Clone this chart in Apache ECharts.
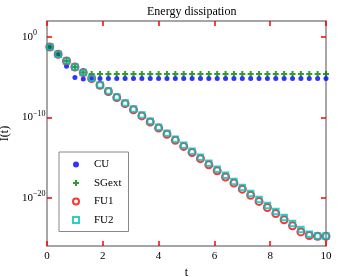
<!DOCTYPE html>
<html><head><meta charset="utf-8">
<script src="https://cdn.jsdelivr.net/npm/echarts@6/dist/echarts.min.js"></script>
<style>html,body{margin:0;padding:0;background:#fff}#c{width:360px;height:277px}</style>
</head><body><div id="c"></div>
<script>
// time samples
const tValues = [0.1,0.4,0.7,1.0,1.3,1.6,1.9,2.2,2.5,2.8,3.1,3.4,3.7,4.0,4.3,4.6,4.9,5.2,5.5,5.8,6.1,6.4,6.7,7.0,7.3,7.6,7.9,8.2,8.5,8.8,9.1,9.4,9.7,10.0];
// log10 of I(t)
const cuExp = [-1.23,-2.14,-3.64,-5.04,-5.22,-5.15,-5.15,-5.15,-5.15,-5.15,-5.15,-5.15,-5.15,-5.15,-5.15,-5.15,-5.15,-5.15,-5.15,-5.15,-5.15,-5.15,-5.15,-5.15,-5.15,-5.15,-5.15,-5.15,-5.15,-5.15,-5.15,-5.15,-5.15,-5.15];
const sgExp = [-1.23,-2.14,-2.98,-3.72,-4.42,-4.6,-4.6,-4.6,-4.6,-4.6,-4.6,-4.6,-4.6,-4.6,-4.6,-4.6,-4.6,-4.6,-4.6,-4.6,-4.6,-4.6,-4.6,-4.6,-4.6,-4.6,-4.6,-4.6,-4.6,-4.6,-4.6,-4.6,-4.6,-4.6];
const fu1Exp = [-1.23,-2.14,-2.98,-3.72,-4.42,-5.15,-6.0,-6.77,-7.53,-8.29,-9.05,-9.81,-10.57,-11.33,-12.09,-12.85,-13.61,-14.37,-15.13,-15.89,-16.65,-17.41,-18.17,-18.93,-19.69,-20.45,-21.21,-21.97,-22.73,-23.49,-24.25,-24.7,-24.8,-24.8];
const fu2Exp = [-1.23,-2.14,-2.98,-3.72,-4.42,-5.13,-5.96,-6.71,-7.46,-8.21,-8.96,-9.71,-10.46,-11.21,-11.96,-12.71,-13.46,-14.21,-14.96,-15.71,-16.46,-17.21,-17.96,-18.71,-19.46,-20.21,-20.96,-21.71,-22.46,-23.21,-23.96,-24.55,-24.77,-24.77];
const yTickExp = [0,-10,-20];
const seriesNames = ['CU','SGext','FU1','FU2'];

const F = 'Liberation Serif';
const axisColor = '#888888';
const tickColor = '#ff0000';
function toData(exps){ return tValues.map((t,i)=>[t, Math.pow(10, exps[i])]); }
const yCustom = yTickExp.map(e=>Math.pow(10,e));
const plusPath = 'path://M2,0H4V2H6V4H4V6H2V4H0V2H2Z';

const chart = echarts.init(document.getElementById('c'));
function xAxisOf(pos, extra){
  return Object.assign({type:'value', min:0, max:10, interval:2, position:pos,
    axisLine:{show:true, onZero:false, lineStyle:{color:axisColor, width:1.5}},
    axisTick:{show:true, inside:true, length:5, lineStyle:{color:tickColor, width:1.5}},
    splitLine:{show:false}}, extra);
}
function yAxisOf(pos, extra){
  return Object.assign({type:'log', logBase:10, min:1e-26, max:1e2, position:pos,
    axisLine:{show:true, onZero:false, lineStyle:{color:axisColor, width:1.5}},
    axisTick:{show:true, inside:true, length:5, customValues:yCustom.slice(), lineStyle:{color:tickColor, width:1.5}},
    minorTick:{show:false}, splitLine:{show:false}}, extra);
}
const option = {
  animation:false,
  title:{text:'Energy dissipation', left:142, top:1,
    textStyle:{fontFamily:F, fontSize:12, fontWeight:'normal', color:'#000'}},
  grid:{left:47, top:21, right:34, bottom:31, outerBoundsMode:'none'},
  xAxis:[
    xAxisOf('bottom', {name:'t', nameLocation:'middle', nameGap:16,
      nameTextStyle:{fontFamily:F, fontSize:12, color:'#000'},
      axisLabel:{fontFamily:F, fontSize:11, color:'#000', margin:5}}),
    xAxisOf('top', {axisLabel:{show:false}})
  ],
  yAxis:[
    yAxisOf('left', {name:'I(t)', nameLocation:'middle', nameGap:29, nameRotate:90,
      nameTextStyle:{fontFamily:F, fontSize:12, color:'#000'},
      axisLabel:{customValues:yCustom.slice(), align:'left', margin:25,
        formatter:function(v){ const e=Math.round(Math.log10(v)); return '{b|10}{s|'+(e<0?'\u2212'+(-e):e)+'}'; },
        rich:{b:{fontFamily:F, fontSize:11, color:'#000'}, s:{fontFamily:F, fontSize:8, color:'#000', padding:[0,0,8,0]}}}}),
    yAxisOf('right', {axisLabel:{show:false}})
  ],
  legend:{orient:'vertical', left:59, top:152, padding:[7,7,6,13], itemGap:7.5, itemWidth:6, itemHeight:6,
    borderColor:axisColor, borderWidth:1, backgroundColor:'#fff', borderRadius:0,
    textStyle:{fontFamily:F, fontSize:11, color:'#000', padding:[0,0,0,10]},
    data:seriesNames},
  series:[
    {type:'scatter', name:seriesNames[0], data:toData(cuExp), symbol:'circle', symbolSize:5,
      itemStyle:{color:'#0000ff'}},
    {type:'scatter', name:seriesNames[1], data:toData(sgExp), symbol:plusPath, symbolSize:6,
      itemStyle:{color:'#008000'}},
    {type:'scatter', name:seriesNames[2], data:toData(fu1Exp), symbol:'circle', symbolSize:7,
      itemStyle:{color:'rgba(255,255,255,0)', borderColor:'#ff0000', borderWidth:2}},
    {type:'scatter', name:seriesNames[3], data:toData(fu2Exp), symbol:'rect', symbolSize:5.5,
      itemStyle:{color:'rgba(255,255,255,0)', borderColor:'#00bfbf', borderWidth:2}}
  ]
};
chart.setOption(option);
</script></body></html>
